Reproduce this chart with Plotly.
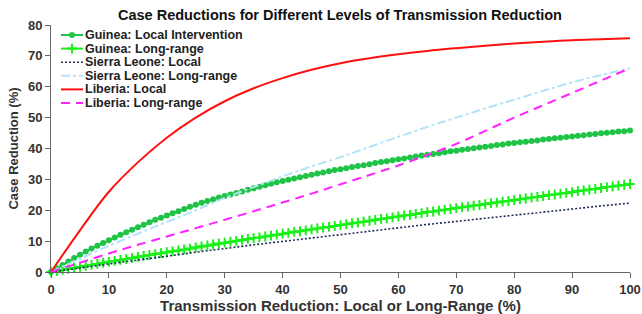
import plotly.graph_objects as go

# Transmission reduction (%) at every integer
x_fine = list(range(0, 101))

guinea_local = [0.0, 1.2, 2.3, 3.4, 4.5, 5.6, 6.6, 7.6, 8.5, 9.4, 10.3,
                11.2, 12.1, 12.9, 13.7, 14.5, 15.3, 16.1, 16.9, 17.6, 18.3,
                19.0, 19.7, 20.4, 21.1, 21.8, 22.4, 23.0, 23.6, 24.1, 24.6,
                25.1, 25.6, 26.1, 26.6, 27.1, 27.6, 28.1, 28.6, 29.1, 29.5,
                29.9, 30.3, 30.7, 31.1, 31.5, 31.9, 32.2, 32.6, 33.0, 33.3,
                33.6, 34.0, 34.3, 34.6, 34.9, 35.3, 35.6, 35.9, 36.2, 36.5,
                36.8, 37.1, 37.4, 37.7, 38.0, 38.2, 38.5, 38.8, 39.1, 39.3,
                39.6, 39.8, 40.1, 40.3, 40.6, 40.8, 41.1, 41.3, 41.6, 41.8,
                42.0, 42.2, 42.4, 42.6, 42.9, 43.1, 43.3, 43.5, 43.7, 43.9,
                44.1, 44.3, 44.5, 44.7, 44.9, 45.1, 45.3, 45.5, 45.6, 45.8]

guinea_long = [0.0, 0.3, 0.7, 1.0, 1.3, 1.7, 2.0, 2.3, 2.6, 3.0, 3.3,
               3.6, 3.9, 4.2, 4.5, 4.9, 5.2, 5.5, 5.8, 6.1, 6.4,
               6.7, 7.0, 7.3, 7.6, 8.0, 8.3, 8.6, 8.9, 9.2, 9.5,
               9.8, 10.1, 10.4, 10.7, 11.0, 11.2, 11.5, 11.8, 12.1, 12.4,
               12.7, 13.0, 13.2, 13.5, 13.8, 14.1, 14.4, 14.6, 14.9, 15.2,
               15.5, 15.8, 16.0, 16.3, 16.6, 16.9, 17.2, 17.4, 17.7, 18.0,
               18.3, 18.5, 18.8, 19.1, 19.4, 19.6, 19.9, 20.2, 20.4, 20.7,
               21.0, 21.2, 21.5, 21.7, 22.0, 22.3, 22.5, 22.8, 23.0, 23.3,
               23.6, 23.8, 24.1, 24.3, 24.6, 24.9, 25.1, 25.4, 25.6, 25.9,
               26.2, 26.4, 26.7, 26.9, 27.2, 27.5, 27.7, 28.0, 28.2, 28.5]

# Coarser series (no markers)
x_coarse = [0, 5, 10, 15, 20, 25, 30, 35, 40, 45, 50, 55, 60, 65, 70, 75, 80, 85, 90, 95, 100]
sierra_local = [0.0, 1.3, 2.6, 3.9, 5.1, 6.4, 7.6, 8.8, 9.9, 11.0, 12.1,
                13.2, 14.3, 15.4, 16.4, 17.4, 18.4, 19.4, 20.4, 21.4, 22.3]
sierra_long = [0.0, 4.3, 8.5, 12.4, 16.2, 20.0, 24.0, 27.5, 31.0, 34.2, 37.2,
               40.5, 43.8, 47.0, 50.0, 53.0, 55.8, 58.7, 61.4, 63.8, 66.0]
liberia_local = [0.0, 13.5, 26.0, 35.5, 43.5, 50.0, 55.3, 59.5, 62.8, 65.5, 67.6,
                 69.2, 70.5, 71.6, 72.5, 73.3, 74.0, 74.6, 75.1, 75.4, 75.7]
liberia_long = [0.0, 3.0, 6.0, 8.8, 11.5, 14.2, 16.9, 19.7, 22.5, 25.4, 28.4,
                31.4, 34.5, 37.9, 41.5, 45.7, 50.0, 54.0, 58.0, 62.0, 66.0]

x_ticks = [0, 10, 20, 30, 40, 50, 60, 70, 80, 90, 100]
y_ticks = [0, 10, 20, 30, 40, 50, 60, 70, 80]

series_names = ["Guinea: Local Intervention", "Guinea: Long-range",
                "Sierra Leone: Local", "Sierra Leone: Long-range",
                "Liberia: Local", "Liberia: Long-range"]

FONT = "Liberation Sans, Arial, Helvetica, sans-serif"

# styles per series
styles = [
    dict(line=dict(color="#1fc447", width=2),
         marker=dict(symbol="circle", size=6, color="#1fc447")),
    dict(line=dict(color="#19f019", width=2),
         marker=dict(symbol="cross-thin", size=7, line=dict(color="#19f019", width=2))),
    dict(line=dict(color="#1f2d5c", width=1.6, dash="2px,2px")),
    dict(line=dict(color="#b3e3f7", width=2, dash="9px,3px,3px,3px")),
    dict(line=dict(color="#ff1010", width=2)),
    dict(line=dict(color="#ff22ff", width=2, dash="9px,6px")),
]

data = [(x_fine, guinea_local), (x_fine, guinea_long),
        (x_coarse, sierra_local), (x_coarse, sierra_long),
        (x_coarse, liberia_local), (x_coarse, liberia_long)]

fig = go.Figure()
for i, ((xs, ys), name, st) in enumerate(zip(data, series_names, styles)):
    has_markers = "marker" in st
    fig.add_trace(go.Scatter(
        x=xs, y=ys, name=name,
        mode="lines+markers" if has_markers else "lines",
        line_shape="linear" if has_markers else "spline",
        cliponaxis=False, showlegend=False, **st))

# ---- compact legend drawn on an overlay pixel-like axis (legend layout, not data) ----
LEG_X0, LEG_X1, LEG_TXT = 10, 32, 32        # sample start / end / text start
LEG_Y0, LEG_DY = 10, 13.6                    # first row centre / row pitch
for i, (name, st) in enumerate(zip(series_names, styles)):
    row = LEG_Y0 + i * LEG_DY
    fig.add_trace(go.Scatter(x=[LEG_X0, LEG_X1], y=[row, row], mode="lines",
                             line=st["line"], xaxis="x2", yaxis="y2",
                             showlegend=False, hoverinfo="skip"))
    if "marker" in st:
        fig.add_trace(go.Scatter(x=[(LEG_X0 + LEG_X1) / 2], y=[row], mode="markers",
                                 marker=st["marker"], xaxis="x2", yaxis="y2",
                                 showlegend=False, hoverinfo="skip"))
    fig.add_annotation(x=LEG_TXT, y=row, xref="x2", yref="y2", text=name,
                       showarrow=False, xanchor="left", yanchor="middle",
                       font=dict(family=FONT, size=12.5, color="#222222", weight="bold"))

axis_common = dict(showgrid=False, zeroline=False, showline=True, linecolor="#666666",
                   linewidth=1, ticks="outside", ticklen=5, tickcolor="#666666",
                   automargin=False,
                   tickfont=dict(family=FONT, size=13, color="#333333", weight="bold"))

fig.update_layout(
    width=642, height=314,
    margin=dict(l=51, r=12, t=25, b=42),
    paper_bgcolor="white", plot_bgcolor="white",
    title=dict(text="Case Reductions for Different Levels of Transmission Reduction",
               x=0.5296, xanchor="center", y=0.953, yanchor="middle",
               font=dict(family=FONT, size=14.5, color="#111111", weight="bold")),
    xaxis=dict(range=[0, 100], tickvals=x_ticks,
               title=dict(text="Transmission Reduction: Local or Long-Range (%)", standoff=0,
                          font=dict(family=FONT, size=15, color="#333333", weight="bold")),
               **axis_common),
    yaxis=dict(range=[0, 80], tickvals=y_ticks,
               title=dict(text="Case Reduction (%)", standoff=6,
                          font=dict(family=FONT, size=13, color="#333333", weight="bold")),
               **axis_common),
    xaxis2=dict(overlaying="x", range=[0, 579], visible=False, fixedrange=True),
    yaxis2=dict(overlaying="y", range=[247, 0], visible=False, fixedrange=True),
    showlegend=False,
)

# remove the default 8px page margin so the 642x314 figure fills the window exactly
fig.write_html("out.html",
               config={"displayModeBar": False},
               post_script="document.body.style.margin='0';document.body.style.overflow='hidden';")
